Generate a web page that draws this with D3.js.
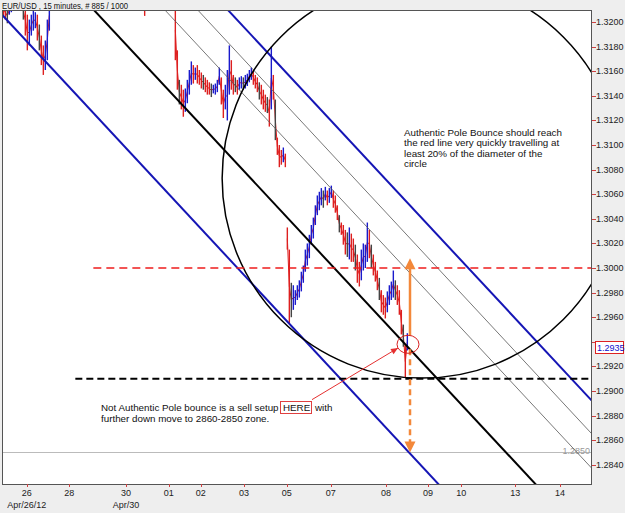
<!DOCTYPE html>
<html>
<head>
<meta charset="utf-8">
<script src="https://cdn.jsdelivr.net/npm/d3@7"></script>
<style>
  body { margin: 0; background: #eeeeee; }
  svg { display: block; font-family: "Liberation Sans", Arial, sans-serif; }
</style>
</head>
<body>
<svg id="chart" width="625" height="513"></svg>
<script>
// ---- data ----
const title = "EUR/USD , 15 minutes, # 885 / 1000";

const yTicks = [1.3200, 1.3180, 1.3160, 1.3140, 1.3120, 1.3100, 1.3080, 1.3060, 1.3040,
  1.3020, 1.3000, 1.2980, 1.2960, 1.2940, 1.2920, 1.2900, 1.2880, 1.2860, 1.2840];

// x axis is in bar index (0..885)
const xTickLabels = ["26", "28", "30", "01", "02", "03", "05", "07", "08", "09", "10", "13", "14"];
const xTickBars = [37, 101, 186, 250, 298, 363, 427, 493, 576, 639, 689, 770, 837];
const xSubLabels = ["Apr/26/12", "Apr/30"];
const xSubBars = [37, 186];

// price bars, one entry every 3 bars
const seg1High = [1.3214, 1.3214, 1.3211, 1.3214, 1.3216, 1.3218, 1.3218, 1.3218, 1.3218, 1.3218, 1.3216, 1.3214,
  1.3206, 1.3202, 1.3206, 1.3210, 1.3208, 1.3206, 1.3198, 1.3189, 1.3181, 1.3185, 1.3202, 1.3218];
const seg1Low = [1.3204, 1.3202, 1.3199, 1.3206, 1.3208, 1.3211, 1.3213, 1.3213, 1.3211, 1.3210, 1.3202, 1.3189,
  1.3177, 1.3181, 1.3189, 1.3193, 1.3195, 1.3185, 1.3177, 1.3165, 1.3157, 1.3161, 1.3169, 1.3193];

const seg2High = [1.3218];
const seg2Low = [1.3205];

const seg3High = [1.3218, 1.3177, 1.3153, 1.3149, 1.3145, 1.3146, 1.3153, 1.3161, 1.3168, 1.3165, 1.3163, 1.3165,
  1.3161, 1.3159, 1.3157, 1.3155, 1.3153, 1.3151, 1.3150, 1.3149, 1.3150, 1.3153, 1.3163, 1.3155, 1.3145, 1.3149,
  1.3161, 1.3181, 1.3169, 1.3157, 1.3155, 1.3153, 1.3155, 1.3156, 1.3155, 1.3157, 1.3158, 1.3161, 1.3163, 1.3161,
  1.3157, 1.3155, 1.3151, 1.3149, 1.3145, 1.3141, 1.3139, 1.3137, 1.3180, 1.3157, 1.3137, 1.3106, 1.3100, 1.3096,
  1.3098, 1.3093];
const seg3Low = [1.3169, 1.3145, 1.3133, 1.3129, 1.3123, 1.3127, 1.3134, 1.3141, 1.3149, 1.3150, 1.3153, 1.3150,
  1.3149, 1.3146, 1.3145, 1.3143, 1.3141, 1.3141, 1.3139, 1.3142, 1.3141, 1.3143, 1.3149, 1.3133, 1.3122, 1.3129,
  1.3120, 1.3141, 1.3145, 1.3141, 1.3143, 1.3141, 1.3145, 1.3146, 1.3145, 1.3146, 1.3148, 1.3151, 1.3153, 1.3149,
  1.3146, 1.3143, 1.3137, 1.3133, 1.3129, 1.3127, 1.3126, 1.3115, 1.3129, 1.3137, 1.3104, 1.3092, 1.3082, 1.3084,
  1.3086, 1.3082];

const seg4High = [1.3033, 1.3015, 1.2988, 1.2986, 1.2982, 1.2986, 1.2990, 1.2997, 1.3002, 1.3015, 1.3020, 1.3027,
  1.3035, 1.3041, 1.3051, 1.3059, 1.3062, 1.3065, 1.3063, 1.3066, 1.3063, 1.3065, 1.3067, 1.3063, 1.3059, 1.3051,
  1.3043, 1.3037, 1.3035, 1.3031, 1.3029, 1.3033, 1.3028, 1.3024, 1.3019, 1.3011, 1.3005, 1.3015, 1.3020, 1.3019,
  1.3037, 1.3031, 1.3019, 1.3011, 1.3005, 1.2998, 1.2992, 1.2982, 1.2978, 1.2976, 1.2981, 1.2986, 1.2989, 1.2998,
  1.2990, 1.2986, 1.2982, 1.2966, 1.2954, 1.2937, 1.2947];
const seg4Low = [1.3015, 1.2955, 1.2960, 1.2966, 1.2970, 1.2974, 1.2976, 1.2981, 1.2988, 1.2997, 1.3002, 1.3008,
  1.3019, 1.3024, 1.3035, 1.3043, 1.3047, 1.3051, 1.3049, 1.3055, 1.3051, 1.3053, 1.3057, 1.3049, 1.3045, 1.3039,
  1.3029, 1.3027, 1.3019, 1.3011, 1.3009, 1.3007, 1.3005, 1.3005, 1.2998, 1.2988, 1.2985, 1.2990, 1.2998, 1.3000,
  1.3005, 1.3008, 1.3000, 1.2994, 1.2989, 1.2982, 1.2974, 1.2964, 1.2962, 1.2959, 1.2964, 1.2970, 1.2974, 1.2976,
  1.2974, 1.2970, 1.2962, 1.2946, 1.2936, 1.2911, 1.2933];

const segStarts = [2, 214, 260, 428];
const barStep = 3;

// channel lines: [bar, price] at both ends
const blueLow = [[0, 1.3206], [885, 1.2690]];
const blackMid = [[0, 1.3290], [885, 1.2775]];
const thin1 = [[0, 1.3352], [885, 1.2837]];
const thin2 = [[0, 1.3381], [885, 1.2865]];
const blueHigh = [[0, 1.3407], [885, 1.2892]];

const circleCenter = [630, 1.3073];
const circleRadius = 0.01625; // in price units

const redLevel = 1.3000, redLevelFrom = 137;
const blackLevel = 1.2910, blackLevelFrom = 110;
const greyLevel = 1.2850;
const lastPrice = 1.2935;

const upArrow = [[612, 1.2945], [612, 1.3008]];
const downArrow = [[612, 1.2934], [612, 1.2850]];
const pointer = [[465, 1.2893], [594, 1.2935]];
const markCenter = [609, 1.2938];

const note1 = ["Authentic Pole Bounce should reach", "the red line very quickly travelling at",
  "least 20% of the diameter of the", "circle"];
const note2a = "Not Authentic Pole bounce is a sell setup";
const note2b = "HERE";
const note2c = "with";
const note2d = "further down move to 2860-2850 zone.";

// ---- drawing ----
const plotLeft = 2, plotRight = 592, plotTop = 10, plotBottom = 484;
const svg = d3.select("#chart");

const x = d3.scaleLinear().domain([0, 885]).range([plotLeft, plotRight]);
const y = d3.scaleLinear().domain([1.28244, 1.32098]).range([plotBottom, plotTop]);

// background
svg.append("rect").attr("width", 625).attr("height", 513).attr("fill", "#eeeeee");
svg.append("rect")
  .attr("x", plotLeft).attr("y", plotTop)
  .attr("width", plotRight - plotLeft).attr("height", plotBottom - plotTop)
  .attr("fill", "#ffffff");

svg.append("text")
  .attr("x", 2).attr("y", 8.5)
  .attr("font-size", 8.6).attr("fill", "#111")
  .attr("textLength", 126).attr("lengthAdjust", "spacingAndGlyphs")
  .text(title);

svg.append("clipPath").attr("id", "plot")
  .append("rect")
  .attr("x", plotLeft).attr("y", plotTop)
  .attr("width", plotRight - plotLeft).attr("height", plotBottom - plotTop);

const g = svg.append("g").attr("clip-path", "url(#plot)");

// grey level line
g.append("line")
  .attr("x1", x(0)).attr("x2", x(885))
  .attr("y1", y(greyLevel)).attr("y2", y(greyLevel))
  .attr("stroke", "#bbbbbb").attr("stroke-width", 1);
g.append("text")
  .attr("x", plotRight - 2).attr("y", y(greyLevel) + 1)
  .attr("text-anchor", "end").attr("font-size", 9).attr("fill", "#999")
  .text(d3.format(".4f")(greyLevel));

// price bars
const segHighs = [seg1High, seg2High, seg3High, seg4High];
const segLows = [seg1Low, seg2Low, seg3Low, seg4Low];
segStarts.forEach((start, s) => {
  const hi = segHighs[s], lo = segLows[s];
  const bars = hi.map((h, i) => ({ bar: start + i * barStep, high: h, low: lo[i], mid: (h + lo[i]) / 2 }));
  bars.forEach((b, i) => { b.up = i > 0 ? b.mid >= bars[i - 1].mid : false; });

  // connecting line through mids
  g.append("path")
    .datum(bars)
    .attr("d", d3.line().x(d => x(d.bar)).y(d => y(d.mid)))
    .attr("fill", "none").attr("stroke", "#e02020").attr("stroke-width", 1);

  g.selectAll(null)
    .data(bars)
    .join("line")
    .attr("x1", d => x(d.bar)).attr("x2", d => x(d.bar))
    .attr("y1", d => y(d.high)).attr("y2", d => y(d.low))
    .attr("stroke", (d, i) => d.up ? "#1a1acc" : (i % 4 === 2 ? "#444" : "#dd1f1f"))
    .attr("stroke-width", 1.4);
});

// channel lines
const lineGen = d3.line().x(d => x(d[0])).y(d => y(d[1]));
[[thin1, "#555", 0.8], [thin2, "#555", 0.8], [blackMid, "#000", 2],
 [blueLow, "#1515b5", 2], [blueHigh, "#1515b5", 2]].forEach(([pts, col, w]) => {
  g.append("path").attr("d", lineGen(pts))
    .attr("fill", "none").attr("stroke", col).attr("stroke-width", w);
});

// circle
g.append("circle")
  .attr("cx", x(circleCenter[0])).attr("cy", y(circleCenter[1]))
  .attr("r", y(circleCenter[1] - circleRadius) - y(circleCenter[1]))
  .attr("fill", "none").attr("stroke", "#000").attr("stroke-width", 1.5);

// dashed levels
g.append("line")
  .attr("x1", x(redLevelFrom)).attr("x2", x(885))
  .attr("y1", y(redLevel)).attr("y2", y(redLevel))
  .attr("stroke", "#ee1c1c").attr("stroke-width", 1.5).attr("stroke-dasharray", "8,5");
g.append("line")
  .attr("x1", x(blackLevelFrom)).attr("x2", x(885))
  .attr("y1", y(blackLevel)).attr("y2", y(blackLevel))
  .attr("stroke", "#000").attr("stroke-width", 2).attr("stroke-dasharray", "7,4");

// orange arrows
const orange = "#f3883a";
function arrowHead(tipX, tipY, dir, size, color) {
  g.append("path")
    .attr("d", `M${tipX},${tipY} L${tipX - size * 0.5},${tipY - dir * size} L${tipX + size * 0.5},${tipY - dir * size} Z`)
    .attr("fill", color);
}
g.append("line")
  .attr("x1", x(upArrow[0][0])).attr("x2", x(upArrow[1][0]))
  .attr("y1", y(upArrow[0][1])).attr("y2", y(upArrow[1][1]) + 8)
  .attr("stroke", orange).attr("stroke-width", 2.5);
arrowHead(x(upArrow[1][0]), y(upArrow[1][1]), -1, 11, orange);
g.append("line")
  .attr("x1", x(downArrow[0][0])).attr("x2", x(downArrow[1][0]))
  .attr("y1", y(downArrow[0][1])).attr("y2", y(downArrow[1][1]) - 8)
  .attr("stroke", orange).attr("stroke-width", 2.5).attr("stroke-dasharray", "6,4");
arrowHead(x(downArrow[1][0]), y(downArrow[1][1]), 1, 11, orange);

// red pointer + ellipse
const px1 = x(pointer[0][0]), py1 = y(pointer[0][1]);
const px2 = x(pointer[1][0]), py2 = y(pointer[1][1]);
g.append("line")
  .attr("x1", px1).attr("y1", py1).attr("x2", px2).attr("y2", py2)
  .attr("stroke", "#e53030").attr("stroke-width", 1);
const ang = Math.atan2(py2 - py1, px2 - px1);
const hl = 7, hw = 3;
g.append("path")
  .attr("d", `M${px2},${py2} L${px2 - hl * Math.cos(ang) + hw * Math.sin(ang)},${py2 - hl * Math.sin(ang) - hw * Math.cos(ang)} L${px2 - hl * Math.cos(ang) - hw * Math.sin(ang)},${py2 - hl * Math.sin(ang) + hw * Math.cos(ang)} Z`)
  .attr("fill", "#e53030");
g.append("ellipse")
  .attr("cx", x(markCenter[0])).attr("cy", y(markCenter[1]))
  .attr("rx", 11).attr("ry", 9)
  .attr("fill", "none").attr("stroke", "#d82020").attr("stroke-width", 1);

// notes
const t1 = svg.append("text").attr("font-size", 9.8).attr("fill", "#111");
note1.forEach((s, i) => {
  t1.append("tspan").attr("x", 404).attr("y", 135.5 + i * 10.6).text(s);
});
svg.append("text").attr("x", 101).attr("y", 410.5).attr("font-size", 9.8).attr("fill", "#111").text(note2a);
svg.append("rect").attr("x", 280.5).attr("y", 401.5).attr("width", 31).attr("height", 12)
  .attr("fill", "none").attr("stroke", "#e04040").attr("stroke-width", 1);
svg.append("text").attr("x", 283).attr("y", 410.5).attr("font-size", 9.8).attr("fill", "#111").text(note2b);
svg.append("text").attr("x", 315).attr("y", 410.5).attr("font-size", 9.8).attr("fill", "#111").text(note2c);
svg.append("text").attr("x", 101).attr("y", 422).attr("font-size", 9.8).attr("fill", "#111").text(note2d);

// frame
svg.append("rect")
  .attr("x", plotLeft + 0.5).attr("y", plotTop + 0.5)
  .attr("width", plotRight - plotLeft - 1).attr("height", plotBottom - plotTop)
  .attr("fill", "none").attr("stroke", "#555").attr("stroke-width", 1);

// y axis (right)
const yAxis = svg.append("g");
yAxis.selectAll("line")
  .data(yTicks)
  .join("line")
  .attr("x1", plotRight).attr("x2", plotRight + 4)
  .attr("y1", d => Math.round(y(d)) + 0.5).attr("y2", d => Math.round(y(d)) + 0.5)
  .attr("stroke", "#d04040");
// the label hidden behind the last-price box is left out
yAxis.selectAll("text")
  .data(yTicks.filter(d => Math.abs(y(d) - y(lastPrice)) > 8))
  .join("text")
  .attr("x", plotRight + 4).attr("y", d => y(d) + 3)
  .attr("font-size", 9).attr("fill", "#222")
  .text(d => d3.format(".4f")(d));

// last price box
svg.append("rect")
  .attr("x", 595.5).attr("y", Math.round(y(lastPrice)) - 6.5)
  .attr("width", 28).attr("height", 12)
  .attr("fill", "#ffffff").attr("stroke", "#dd2222");
svg.append("text")
  .attr("x", 597).attr("y", y(lastPrice) + 3)
  .attr("font-size", 9).attr("fill", "#1010cc")
  .text(d3.format(".4f")(lastPrice));

// x axis (bottom)
const xAxis = svg.append("g");
xAxis.selectAll("line")
  .data(xTickBars)
  .join("line")
  .attr("x1", d => Math.round(x(d)) + 0.5).attr("x2", d => Math.round(x(d)) + 0.5)
  .attr("y1", plotBottom).attr("y2", plotBottom + 3)
  .attr("stroke", "#d04040");
xAxis.selectAll("text.day")
  .data(xTickBars)
  .join("text")
  .attr("class", "day")
  .attr("x", d => x(d)).attr("y", 496)
  .attr("text-anchor", "middle").attr("font-size", 9).attr("fill", "#222")
  .text((d, i) => xTickLabels[i]);
xAxis.selectAll("text.sub")
  .data(xSubBars)
  .join("text")
  .attr("class", "sub")
  .attr("x", d => x(d)).attr("y", 508)
  .attr("text-anchor", "middle").attr("font-size", 9).attr("fill", "#222")
  .text((d, i) => xSubLabels[i]);
</script>
</body>
</html>
